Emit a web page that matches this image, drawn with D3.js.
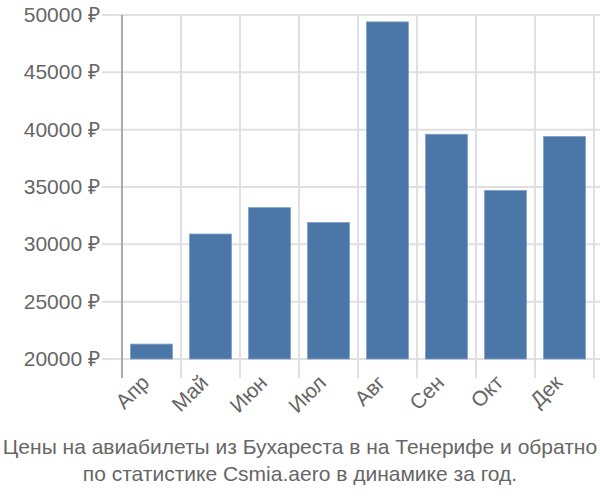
<!DOCTYPE html>
<html>
<head>
<meta charset="utf-8">
<script src="https://cdn.jsdelivr.net/npm/d3@7"></script>
<style>
body { margin: 0; background: #fff; }
text { font-family: "Liberation Sans", Arial, sans-serif; fill: #666; }
</style>
</head>
<body>
<svg width="600" height="500"></svg>
<script>
var months = ['Апр', 'Май', 'Июн', 'Июл', 'Авг', 'Сен', 'Окт', 'Дек'];
var prices = [21300, 30900, 33200, 31900, 49400, 39600, 34700, 39400];
var yTicks = [20000, 25000, 30000, 35000, 40000, 45000, 50000];
var titleLines = ['Цены на авиабилеты из Бухареста в на Тенерифе и обратно',
                  'по статистике Csmia.aero в динамике за год.'];

var svg = d3.select('svg');
var pLeft = 122, pRight = 594, pTop = 15, pBottom = 359;

var x = d3.scaleBand().domain(months).range([pLeft, pRight]).paddingInner(0.29).paddingOuter(0.145);
var xg = d3.scaleBand().domain(months).range([pLeft, pRight]);
var y = d3.scaleLinear().domain([20000, 50000]).range([pBottom, pTop]);

// horizontal grid
svg.append('g')
    .selectAll('line')
    .data(yTicks)
    .enter()
    .append('line')
    .attr('x1', 102).attr('x2', 600)
    .attr('y1', function(d) {return y(d);})
    .attr('y2', function(d) {return y(d);})
    .style('stroke', '#e0e0e0').style('stroke-width', 2);

// vertical grid
svg.append('g')
    .selectAll('line')
    .data(months)
    .enter()
    .append('line')
    .attr('x1', function(d) {return xg(d) + xg.bandwidth();})
    .attr('x2', function(d) {return xg(d) + xg.bandwidth();})
    .attr('y1', pTop).attr('y2', 378)
    .style('stroke', '#e0e0e0').style('stroke-width', 2);

// left axis line
svg.append('line')
    .attr('x1', pLeft).attr('x2', pLeft)
    .attr('y1', pTop).attr('y2', 378)
    .style('stroke', '#aaa').style('stroke-width', 2);

// y labels
svg.append('g')
    .selectAll('text')
    .data(yTicks)
    .enter()
    .append('text')
    .attr('x', 100)
    .attr('y', function(d) {return y(d) + 7;})
    .attr('text-anchor', 'end')
    .style('font-size', '21px')
    .text(function(d) {return d + ' ₽';});

// bars
svg.append('g')
    .selectAll('rect')
    .data(prices)
    .enter()
    .append('rect')
    .attr('x', function(d, i) {return x(months[i]);})
    .attr('y', function(d) {return y(d);})
    .attr('width', x.bandwidth())
    .attr('height', function(d) {return pBottom - y(d);})
    .style('fill', '#4a77a8')
    .style('stroke', '#7f9fc6').style('stroke-width', 0.8);

// x labels
svg.append('g')
    .selectAll('text')
    .data(months)
    .enter()
    .append('text')
    .attr('text-anchor', 'end')
    .attr('transform', function(d) {
        var cx = x(d) + x.bandwidth() / 2 - 1;
        return 'translate(' + cx + ',384) rotate(-45)';
    })
    .style('font-size', '21px')
    .text(function(d) {return d;});

// title
svg.append('g')
    .selectAll('text')
    .data(titleLines)
    .enter()
    .append('text')
    .attr('x', 300)
    .attr('y', function(d, i) {return 454 + i * 27;})
    .attr('text-anchor', 'middle')
    .style('font-size', '21px')
    .text(function(d) {return d;});
</script>
</body>
</html>
